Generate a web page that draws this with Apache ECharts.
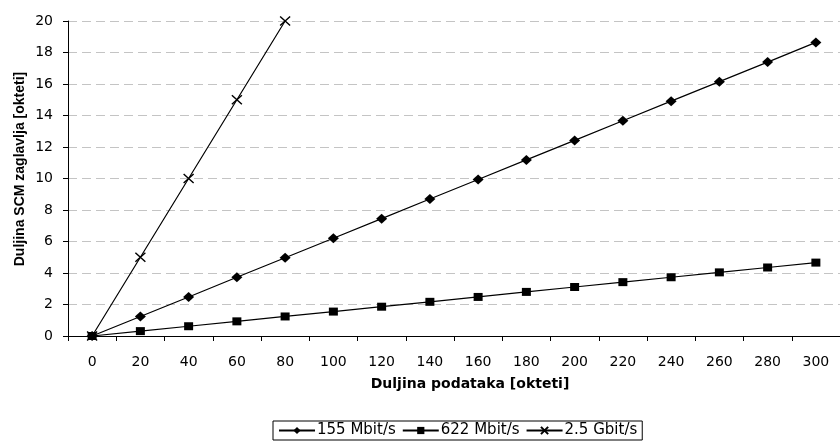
<!DOCTYPE html>
<html>
<head>
<meta charset="utf-8">
<script src="https://cdn.jsdelivr.net/npm/echarts@6/dist/echarts.min.js"></script>
<style>
  html, body { margin: 0; padding: 0; background: #fff; }
  #chart { width: 840px; height: 445px; }
</style>
</head>
<body>
<div id="chart"></div>
<script>
// Header length vs. payload length, per link rate
const categories = ['0', '20', '40', '60', '80', '100', '120', '140', '160', '180', '200', '220', '240', '260', '280', '300'];
const rate155 = [0, 1.24, 2.48, 3.73, 4.97, 6.21, 7.45, 8.70, 9.94, 11.18, 12.42, 13.67, 14.91, 16.15, 17.39, 18.64];
const rate622 = [0, 0.31, 0.62, 0.93, 1.24, 1.55, 1.86, 2.17, 2.48, 2.80, 3.11, 3.42, 3.73, 4.04, 4.35, 4.66];
const rate2500 = [0, 5, 10, 15, 20];
const seriesNames = ['155 Mbit/s', '622 Mbit/s', '2.5 Gbit/s'];
const yTicks = { min: 0, max: 20, step: 2 };

const FONT = '"DejaVu Sans", "Liberation Sans", Arial, sans-serif';
const FONT_V = '"Liberation Sans", Arial, sans-serif';
const crossPath = 'path://M0,0L10,10M10,0L0,10';

const chart = echarts.init(document.getElementById('chart'), null, { renderer: 'canvas' });

chart.setOption({
  animation: false,
  backgroundColor: '#ffffff',
  textStyle: { fontFamily: FONT, color: '#000' },
  grid: { left: 68, right: -11, top: 21, bottom: 109, containLabel: false },
  xAxis: {
    type: 'category',
    data: categories,
    boundaryGap: true,
    axisLine: { lineStyle: { color: '#000', width: 1 } },
    axisTick: { show: true, length: 5, inside: false, lineStyle: { color: '#000' } },
    axisLabel: { color: '#000', fontSize: 14, fontFamily: FONT, margin: 19, interval: 0 },
    splitLine: { show: false }
  },
  yAxis: {
    type: 'value',
    min: yTicks.min,
    max: yTicks.max,
    interval: yTicks.step,
    axisLine: { show: true, lineStyle: { color: '#000', width: 1 } },
    axisTick: { show: true, length: 5, lineStyle: { color: '#000' } },
    axisLabel: { color: '#000', fontSize: 14, fontFamily: FONT, margin: 15 },
    splitLine: { show: true, lineStyle: { color: '#c4c4c4', type: [9, 5], width: 1 } }
  },
  legend: {
    data: seriesNames,
    left: 273,
    top: 421,
    orient: 'horizontal',
    itemWidth: 36,
    itemHeight: 9,
    itemGap: 6,
    padding: [2, 5, 2, 5],
    borderColor: '#000',
    borderWidth: 1,
    borderRadius: 0,
    textStyle: { fontSize: 15, fontFamily: FONT, color: '#000', padding: [0, 0, 0, -3] }
  },
  graphic: [
    {
      type: 'text',
      style: {
        text: 'Duljina podataka [okteti]',
        x: 470, y: 384,
        textAlign: 'center', textVerticalAlign: 'middle',
        font: 'bold 14px ' + FONT, fill: '#000'
      }
    },
    {
      type: 'text',
      x: 20, y: 169,
      rotation: Math.PI / 2,
      style: {
        text: 'Duljina SCM zaglavlja [okteti]',
        x: 0, y: 0,
        textAlign: 'center', textVerticalAlign: 'middle',
        font: 'bold 14px ' + FONT_V, fill: '#000'
      }
    }
  ],
  series: [
    {
      name: seriesNames[0],
      type: 'line',
      data: rate155,
      symbol: 'diamond',
      symbolSize: [11, 10],
      lineStyle: { color: '#000', width: 1.2 },
      itemStyle: { color: '#000' },
      z: 3
    },
    {
      name: seriesNames[1],
      type: 'line',
      data: rate622,
      symbol: 'rect',
      symbolSize: [9, 8],
      lineStyle: { color: '#000', width: 1.2 },
      itemStyle: { color: '#000' },
      z: 3
    },
    {
      name: seriesNames[2],
      type: 'line',
      data: rate2500,
      symbol: crossPath,
      symbolSize: [10, 9],
      lineStyle: { color: '#000', width: 1.2 },
      itemStyle: { color: 'rgba(0,0,0,0)', borderColor: '#000', borderWidth: 1.3 },
      z: 4
    }
  ]
});
</script>
</body>
</html>
